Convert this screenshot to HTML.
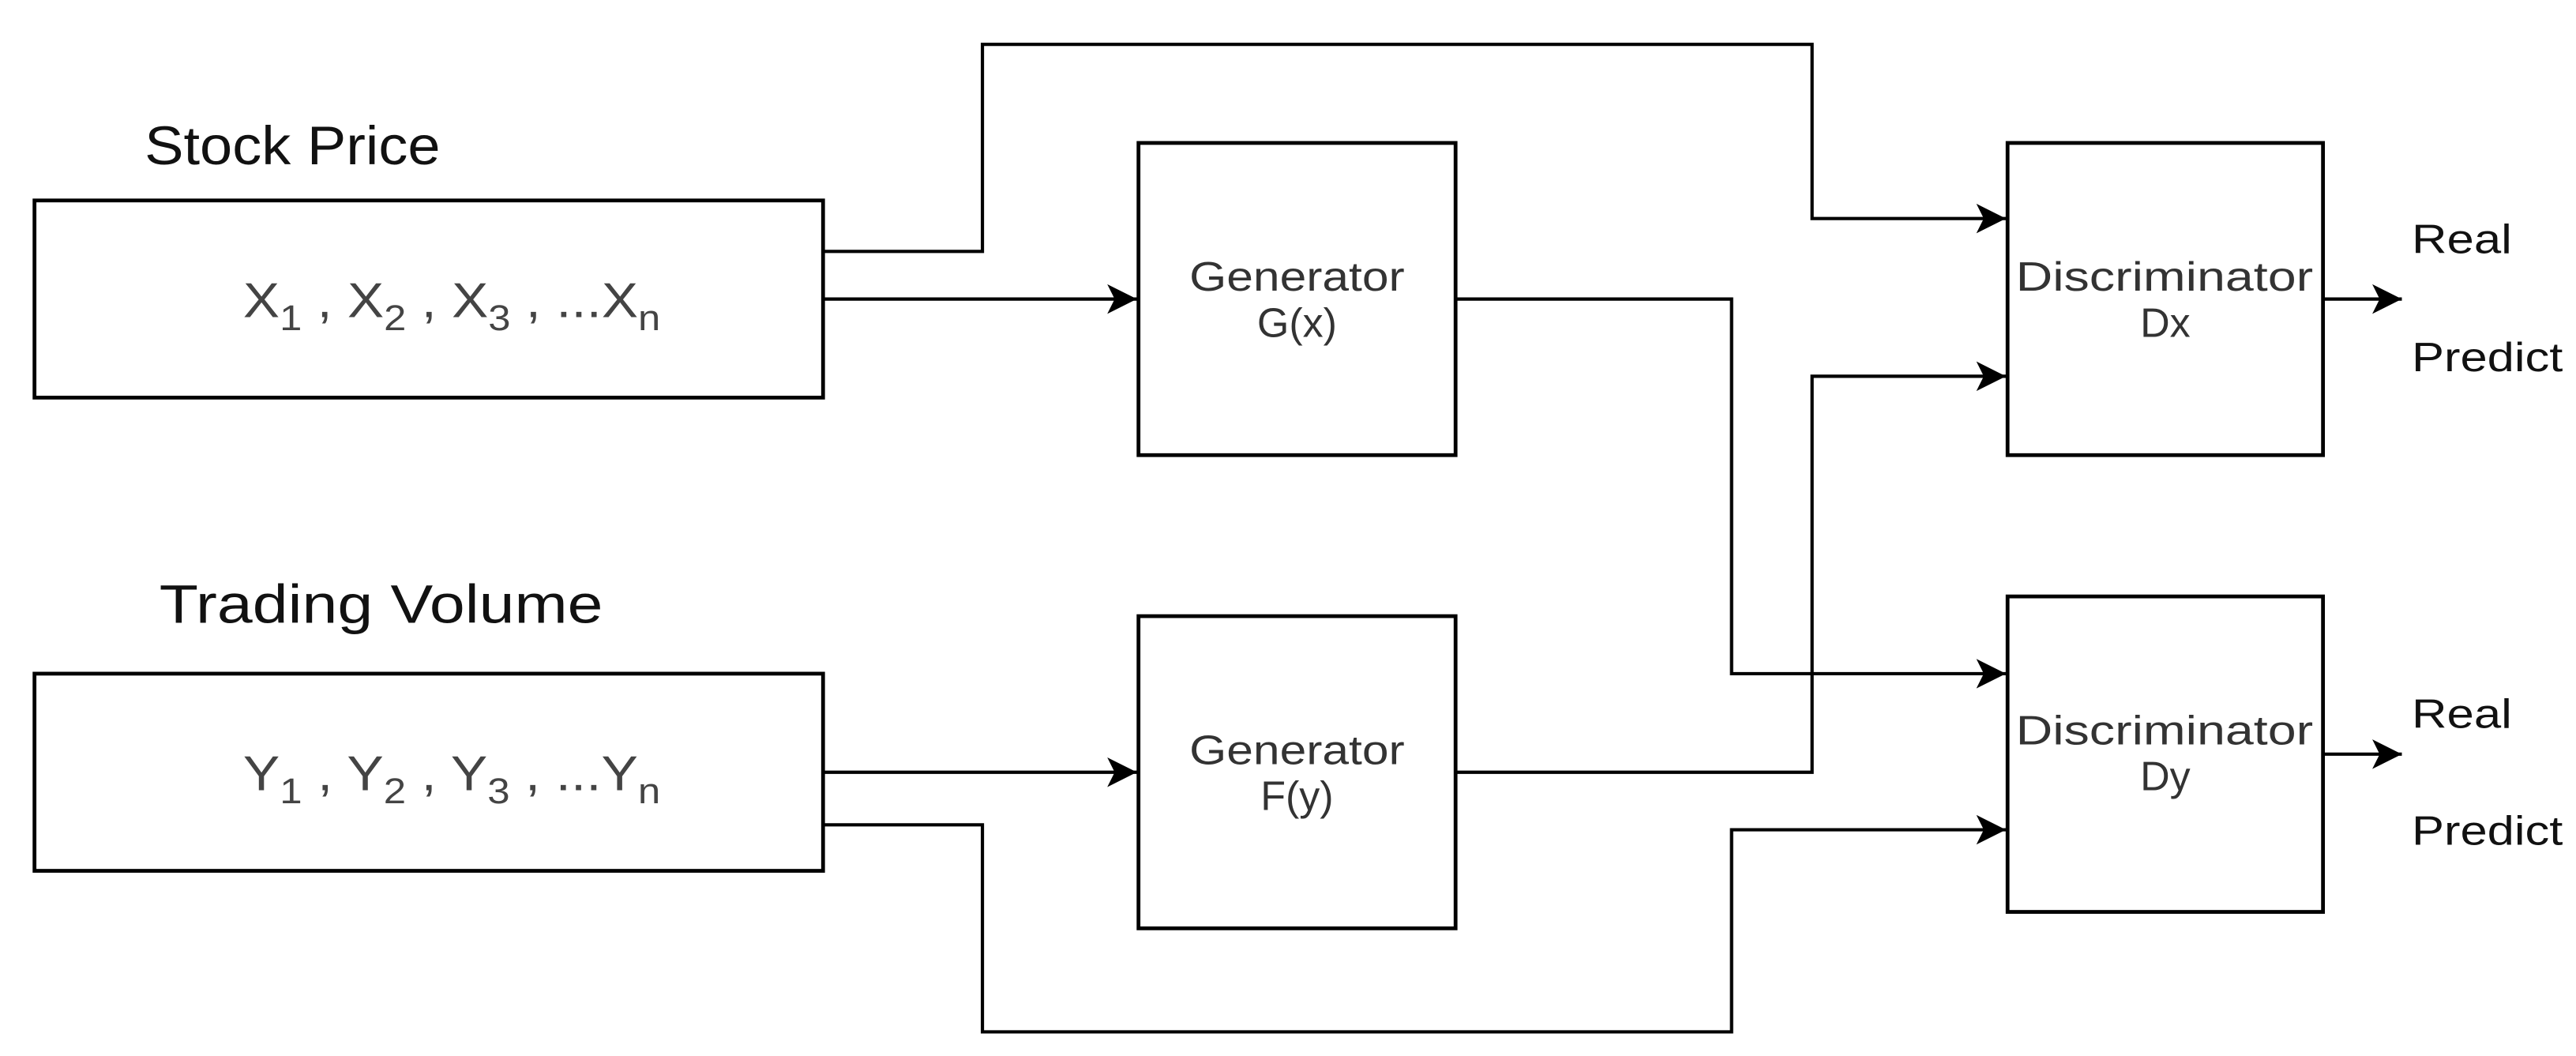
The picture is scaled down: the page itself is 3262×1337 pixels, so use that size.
<!DOCTYPE html>
<html><head><meta charset="utf-8"><style>
html,body{margin:0;padding:0;background:#fff;}
svg{display:block;}
text{font-family:"Liberation Sans",sans-serif;}
</style></head><body>
<svg width="3262" height="1337" viewBox="0 0 1568 642.7" preserveAspectRatio="none" xmlns="http://www.w3.org/2000/svg">
<defs>
<marker id="a" markerWidth="18" markerHeight="18" refX="16" refY="8" orient="auto" markerUnits="userSpaceOnUse" viewBox="0 0 16 16">
<path d="M0,0 L16,8 L0,16 L4,8 Z" fill="#000"/>
</marker>
</defs>
<g fill="none" stroke="#000" stroke-width="2.3">
<rect x="21" y="122" width="480" height="120"/>
<rect x="21" y="410" width="480" height="120"/>
<rect x="693" y="87" width="193" height="190"/>
<rect x="693" y="375" width="193" height="190"/>
<rect x="1222" y="87" width="192" height="190"/>
<rect x="1222" y="363" width="192" height="192"/>
</g>
<g fill="none" stroke="#000" stroke-width="2">
<polyline points="501,153 598,153 598,27 1103,27 1103,133 1221,133" marker-end="url(#a)"/>
<polyline points="501,182 692,182" marker-end="url(#a)"/>
<polyline points="886,182 1054,182 1054,410 1221,410" marker-end="url(#a)"/>
<polyline points="886,470 1103,470 1103,229 1221,229" marker-end="url(#a)"/>
<polyline points="501,470 692,470" marker-end="url(#a)"/>
<polyline points="501,502 598,502 598,628 1054,628 1054,505 1221,505" marker-end="url(#a)"/>
<polyline points="1414,182 1462,182" marker-end="url(#a)"/>
<polyline points="1414,459 1462,459" marker-end="url(#a)"/>
</g>
<text x="88" y="100" font-size="33" fill="#111" textLength="180" lengthAdjust="spacingAndGlyphs">Stock Price</text>
<text x="97" y="379" font-size="33" fill="#111" textLength="270" lengthAdjust="spacingAndGlyphs">Trading Volume</text>
<text x="148" y="193" font-size="30" fill="#444" textLength="254" lengthAdjust="spacingAndGlyphs">X<tspan font-size="22" dy="8">1</tspan><tspan dy="-8"> , X</tspan><tspan font-size="22" dy="8">2</tspan><tspan dy="-8"> , X</tspan><tspan font-size="22" dy="8">3</tspan><tspan dy="-8"> , ...X</tspan><tspan font-size="22" dy="8">n</tspan></text>
<text x="148" y="481" font-size="30" fill="#444" textLength="254" lengthAdjust="spacingAndGlyphs">Y<tspan font-size="22" dy="8">1</tspan><tspan dy="-8"> , Y</tspan><tspan font-size="22" dy="8">2</tspan><tspan dy="-8"> , Y</tspan><tspan font-size="22" dy="8">3</tspan><tspan dy="-8"> , ...Y</tspan><tspan font-size="22" dy="8">n</tspan></text>
<g font-size="25" fill="#333">
<text x="724" y="177" textLength="131" lengthAdjust="spacingAndGlyphs">Generator</text>
<text x="789.5" y="205" text-anchor="middle">G(x)</text>
<text x="724" y="465" textLength="131" lengthAdjust="spacingAndGlyphs">Generator</text>
<text x="789.5" y="493" text-anchor="middle">F(y)</text>
<text x="1227" y="177" textLength="181" lengthAdjust="spacingAndGlyphs">Discriminator</text>
<text x="1318" y="205" text-anchor="middle">Dx</text>
<text x="1227" y="453" textLength="181" lengthAdjust="spacingAndGlyphs">Discriminator</text>
<text x="1318" y="481" text-anchor="middle">Dy</text>
</g>
<g font-size="25" fill="#111">
<text x="1468" y="154" textLength="61" lengthAdjust="spacingAndGlyphs">Real</text>
<text x="1468" y="226" textLength="92" lengthAdjust="spacingAndGlyphs">Predict</text>
<text x="1468" y="443" textLength="61" lengthAdjust="spacingAndGlyphs">Real</text>
<text x="1468" y="514" textLength="92" lengthAdjust="spacingAndGlyphs">Predict</text>
</g>
</svg>
</body></html>
